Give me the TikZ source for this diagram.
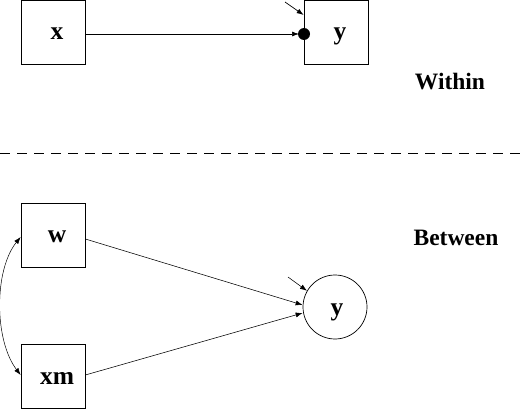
\documentclass[tikz,border=0pt]{standalone}
\usepackage{fontspec}
\setmainfont{Liberation Serif}
\usetikzlibrary{arrows.meta}
\begin{document}
\begin{tikzpicture}[
                x=1pt,y=-1pt,
                line width=0.7pt,
                font=\fontsize{23.5}{25}\selectfont\bfseries,
                obs/.style={draw,rectangle,minimum size=64pt,inner sep=0pt,
                    font=\fontsize{25.5}{27}\selectfont\bfseries,
                    text height=16pt,text depth=0pt,execute at begin node=\hspace*{8pt}},
                lat/.style={draw,circle,minimum size=64pt,inner sep=0pt,
                    font=\fontsize{25.5}{27}\selectfont\bfseries,
                    text height=16pt,text depth=0pt,execute at begin node=\hspace*{4pt}},
                path/.style={-{Latex[length=7pt,width=5pt]}},
                resid/.style={-{Latex[length=7pt,width=5pt]}},
                label/.style={anchor=base}
            ]
            \useasboundingbox (0,0) rectangle (520,409);

            % within part
            \node[obs] (x) at (53,32) {x};
            \node[obs] (y) at (336,32) {y};
            \fill (304,34) circle (6pt) coordinate (dot);
            \coordinate (ry) at (285,2);
            \draw[path] (x.east |- dot) -- ([xshift=-5pt]dot);
            \draw[resid] (ry) -- (y.north west |- 0,15);
            \node[label] (within) at (450,90) {Within};

            \draw[dashed,dash pattern=on 10pt off 7pt] (0,153) -- (520,153);

            % between part
            \node[label] (between) at (456,246) {Between};
            \node[obs] (w) at (53,235) {w};
            \node[obs] (xm) at (53,376) {xm};
            \node[lat] (yb) at (335,307) {y};
            \coordinate (ryb) at (288,277);
            \draw[path,line width=0.55pt] ([yshift=-4pt]w.east) -- ([yshift=2pt]yb.west);
            \draw[path,line width=0.55pt] ([yshift=1pt]xm.east) -- ([yshift=-6pt]yb.west);
            \draw[resid,line width=0.55pt] (ryb) -- (yb.150);
            \draw[{Latex[length=7pt,width=5pt]}-{Latex[length=7pt,width=5pt]},line width=0.5pt]
                ([yshift=-2pt]w.west) .. controls (-6,270) and (-6,340) .. ([yshift=1pt]xm.west);

        \end{tikzpicture}
\end{document}
